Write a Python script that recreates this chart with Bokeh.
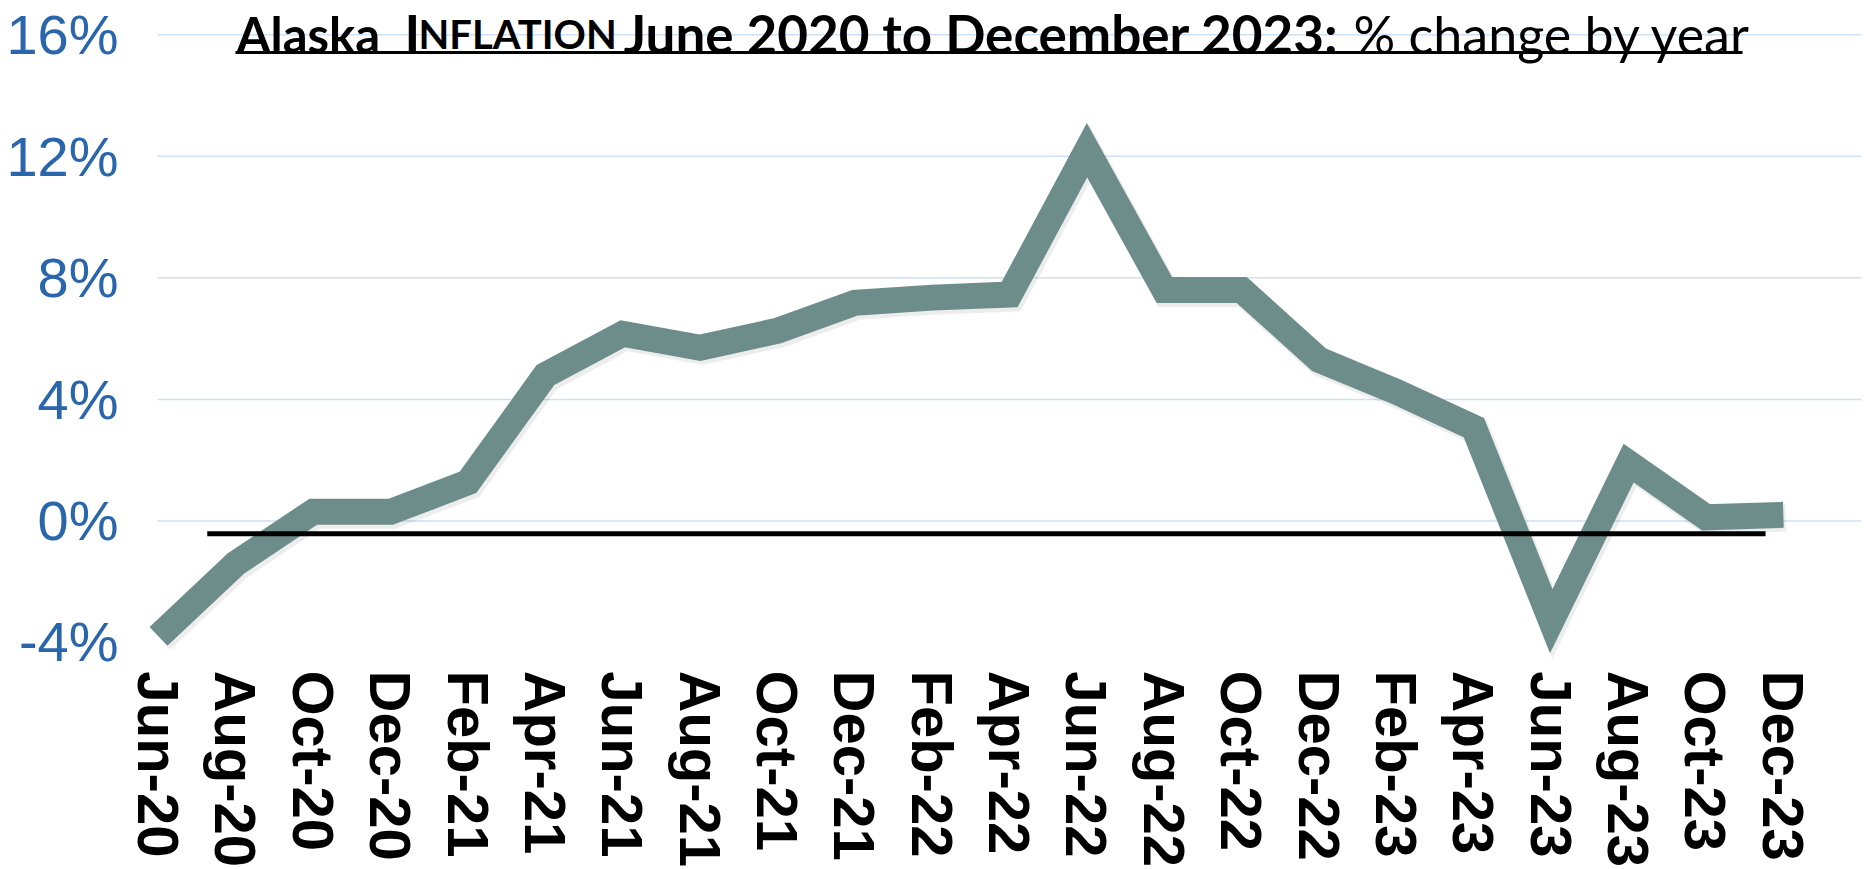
import math
from bokeh.plotting import figure
from bokeh.layouts import column
from bokeh.models import ColumnDataSource, FixedTicker, Range1d, Label, BoxAnnotation
from bokeh.core.properties import value
from bokeh.transform import dodge
from bokeh.embed import file_html
from bokeh.resources import INLINE

# ---- data ----
months = ["Jun-20", "Aug-20", "Oct-20", "Dec-20", "Feb-21", "Apr-21", "Jun-21", "Aug-21",
          "Oct-21", "Dec-21", "Feb-22", "Apr-22", "Jun-22", "Aug-22", "Oct-22", "Dec-22",
          "Feb-23", "Apr-23", "Jun-23", "Aug-23", "Oct-23", "Dec-23"]
inflation = [-3.8, -1.4, 0.3, 0.3, 1.27, 4.8, 6.16, 5.7, 6.26, 7.18, 7.35, 7.45,
             12.2, 7.6, 7.6, 5.3, 4.25, 3.07, -3.3, 1.9, 0.12, 0.2]
y_ticks = [-4, 0, 4, 8, 12, 16]
y_tick_labels = ["-4%", "0%", "4%", "8%", "12%", "16%"]
grid_ticks = [0, 4, 8, 12, 16]
baseline_value = -0.42
baseline_span = [0.63, 20.77]

title_bold_1 = "Alaska"
title_cap = "I"
title_smallcaps = "NFLATION"
title_bold_2 = "June 2020 to December 2023:"
title_regular = "% change by year"

# ---- layout constants ----
W = 1875
H_MAIN = 672
H_LABELS = 197
FRAME_LEFT = 130
FRAME_RIGHT_BORDER = 14
X_START, X_END = -0.362, 22.01
GRID_START = -0.013
Y_START, Y_END = -4.99, 17.13

x_index = list(range(len(months)))
src = ColumnDataSource(dict(x=x_index, y=inflation, label=months))
x_range = Range1d(X_START, X_END)

p = figure(width=W, height=H_MAIN, output_backend="svg", toolbar_location=None,
           title=None, x_axis_location=None,
           x_range=x_range, y_range=Range1d(Y_START, Y_END),
           min_border_left=FRAME_LEFT, min_border_right=FRAME_RIGHT_BORDER,
           min_border_top=0, min_border_bottom=0)
p.outline_line_color = None
p.background_fill_color = "white"
p.border_fill_color = "white"
p.grid.visible = False

# horizontal grid lines (start at the first category, like the original)
p.segment(x0=GRID_START, x1=X_END, y0=grid_ticks, y1=grid_ticks,
          line_color="#cde1f7", line_width=1.5)

# y axis
p.yaxis.ticker = FixedTicker(ticks=y_ticks)
p.yaxis.major_label_overrides = {t: l for t, l in zip(y_ticks, y_tick_labels)}
p.yaxis.major_label_text_font = "Liberation Sans"
p.yaxis.major_label_text_font_size = "56px"
p.yaxis.major_label_text_color = "#2a66ab"
p.yaxis.major_label_standoff = 12
p.yaxis.axis_line_color = None
p.yaxis.major_tick_line_color = None
p.yaxis.minor_tick_line_color = None
p.yaxis.major_tick_out = 0

# soft shadow + main line
p.line(x=dodge("x", 0.03), y=dodge("y", -0.1), source=src, line_width=28,
       line_color="#000000", line_alpha=0.07, line_join="miter", line_cap="butt")
p.line("x", "y", source=src, line_width=26, line_color="#6d8d8a",
       line_join="miter", line_cap="butt")

# black baseline
p.segment(x0=[baseline_span[0]], y0=[baseline_value], x1=[baseline_span[1]], y1=[baseline_value],
          line_color="black", line_width=5)

# title (mixed styles), positioned in screen units relative to the frame
title_font = "Lato"
TY = 639
def tlabel(x, text, style, size):
    return Label(x=x, y=TY, x_units="screen", y_units="screen", text=text,
                 text_font=title_font, text_font_style=style, text_font_size=size,
                 text_color="black", text_align="left", text_baseline="alphabetic")

p.add_layout(tlabel(106, title_bold_1, "bold", "49px"))
p.add_layout(tlabel(274, title_cap, "bold", "53px"))
p.add_layout(tlabel(288, title_smallcaps, "bold", "40px"))
p.add_layout(tlabel(493, title_bold_2, "bold", "53px"))
p.add_layout(tlabel(1223, title_regular, "normal", "52px"))
p.add_layout(BoxAnnotation(left=105, right=1612, bottom=618.5, top=621.5,
                           left_units="screen", right_units="screen",
                           bottom_units="screen", top_units="screen",
                           fill_color="black", fill_alpha=1.0, line_color=None))

# ---- category labels strip (shares the horizontal scale of the main plot) ----
q = figure(width=W, height=H_LABELS, output_backend="svg", toolbar_location=None,
           title=None, x_axis_location=None, y_axis_location=None,
           x_range=x_range, y_range=Range1d(-(H_LABELS + 2), -2),
           min_border_left=FRAME_LEFT, min_border_right=FRAME_RIGHT_BORDER,
           min_border_top=0, min_border_bottom=0)
q.outline_line_color = None
q.grid.visible = False
q.border_fill_color = "white"
q.text(x="x", y=0, text="label", source=src, angle=-math.pi / 2,
       text_align="left", text_baseline="middle",
       text_font=value("Liberation Sans"), text_font_style="bold",
       text_font_size="58px", text_color="black")

layout = column(p, q, spacing=0)
open("out.html", "w").write(file_html(layout, INLINE))
